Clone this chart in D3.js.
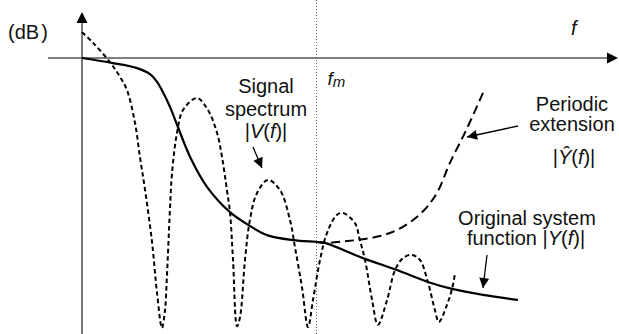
<!DOCTYPE html>
<html>
<head>
<meta charset="utf-8">
<script src="https://cdn.jsdelivr.net/npm/d3@7"></script>
<style>
  html, body { margin: 0; padding: 0; background: #fff; }
  svg { display: block; font-family: "Liberation Sans", Arial, Helvetica, sans-serif; }
</style>
</head>
<body>
<div id="chart"></div>
<script>
// frequency in units of f_m, magnitude in dB
const sysF  = [0, 0.132, 0.235, 0.290, 0.320, 0.341, 0.375, 0.409, 0.461, 0.533, 0.631, 0.716, 0.789, 0.900, 1.002, 1.036, 1.198, 1.343, 1.475, 1.578, 1.710, 1.859];
const sysDb = [0, -1.1, -2.2, -3.5, -5.2, -7.0, -10.6, -15.0, -21.5, -28.0, -33.5, -36.5, -38.5, -39.6, -40.0, -40.2, -43.5, -46.1, -48.7, -50.2, -51.5, -52.6];

const sigF  = [0, 0.047, 0.119, 0.162, 0.192, 0.226, 0.247, 0.269, 0.299, 0.320, 0.341, 0.354, 0.362, 0.375, 0.384, 0.405, 0.431, 0.490,
               0.537, 0.576, 0.597, 0.618, 0.631, 0.644, 0.661, 0.674, 0.695, 0.716, 0.746, 0.793, 0.844, 0.887, 0.908, 0.938, 0.964,
               0.985, 1.015, 1.045, 1.087, 1.113, 1.164, 1.185, 1.207, 1.237, 1.262, 1.301, 1.335, 1.369, 1.407, 1.441, 1.475, 1.505,
               1.522, 1.556, 1.578, 1.591];
const sigDb = [5.6, 3.3, -0.9, -4.1, -7.0, -14.1, -21.5, -28.7, -40.2, -51.1, -58.7, -54.8, -47.6, -33.0, -25.0, -16.3, -11.3, -8.7,
               -11.3, -16.3, -21.5, -28.7, -33.5, -43.9, -58.3, -56.3, -43.9, -35.2, -29.4, -26.5, -28.7, -35.2, -41.1, -49.8, -58.5,
               -52.6, -43.9, -38.0, -34.1, -33.7, -35.9, -39.6, -43.9, -52.6, -58.0, -52.6, -46.1, -43.5, -42.8, -43.9, -48.7, -54.8,
               -57.4, -53.7, -50.2, -46.7];

const extF  = [1.002, 1.036, 1.130, 1.198, 1.271, 1.343, 1.412, 1.471, 1.518, 1.569, 1.638, 1.710];
const extDb = [-40.0, -40.2, -39.8, -39.4, -38.7, -37.4, -35.2, -32.4, -28.9, -22.8, -15.7, -7.6];

const fm = 1;

const width = 619, height = 334;
const svg = d3.select("#chart").append("svg").attr("width", width).attr("height", height);

const x = d3.scaleLinear().domain([0, 1]).range([82, 316.5]);
const y = d3.scaleLinear().domain([0, -40]).range([58, 242]);

const defs = svg.append("defs");
defs.append("marker").attr("id", "head")
  .attr("viewBox", "0 0 10 10").attr("refX", 10).attr("refY", 5)
  .attr("markerWidth", 12).attr("markerHeight", 10).attr("markerUnits", "userSpaceOnUse")
  .attr("orient", "auto")
  .append("path").attr("d", "M0,0L10,5L0,10Z").attr("fill", "#000");

// axes
const axisColor = "#555";
svg.append("line").attr("x1", x(0)).attr("x2", x(0)).attr("y1", height).attr("y2", 22)
  .attr("stroke", axisColor).attr("stroke-width", 1.6);
svg.append("path").attr("d", `M${x(0)},12L${x(0) - 5.5},23L${x(0) + 5.5},23Z`).attr("fill", "#000");
svg.append("line").attr("x1", 48).attr("x2", 608).attr("y1", y(0)).attr("y2", y(0))
  .attr("stroke", axisColor).attr("stroke-width", 1.6);
svg.append("path").attr("d", `M618,${y(0)}L607,${y(0) - 5.5}L607,${y(0) + 5.5}Z`).attr("fill", "#000");

// f_m marker
svg.append("line").attr("x1", x(fm)).attr("x2", x(fm)).attr("y1", 0).attr("y2", height)
  .attr("stroke", "#666").attr("stroke-width", 1).attr("stroke-dasharray", "1,2");

const line = d3.line().x(d => x(d[0])).y(d => y(d[1])).curve(d3.curveCatmullRom.alpha(0.5));
const zip = (a, b) => a.map((v, i) => [v, b[i]]);

svg.append("path").attr("d", line(zip(sigF, sigDb)))
  .attr("fill", "none").attr("stroke", "#000").attr("stroke-width", 2).attr("stroke-dasharray", "4.5,3");
svg.append("path").attr("d", line(zip(extF, extDb)))
  .attr("fill", "none").attr("stroke", "#000").attr("stroke-width", 2).attr("stroke-dasharray", "9,5");
svg.append("path").attr("d", line(zip(sysF, sysDb)))
  .attr("fill", "none").attr("stroke", "#000").attr("stroke-width", 2.2);

// labels
const label = (tx, ty, anchor) => svg.append("text").attr("x", tx).attr("y", ty)
  .attr("text-anchor", anchor || "middle").attr("font-size", 20).attr("fill", "#111");

const db = label(8, 39, "start");
db.append("tspan").text("(dB");
db.append("tspan").attr("dx", 2).text(")");

label(571, 35, "start").attr("font-style", "italic").text("f");

const fmText = label(x(fm) + 11, 85, "start").attr("font-style", "italic").attr("font-size", 19);
fmText.append("tspan").text("f");
fmText.append("tspan").attr("font-size", 15).attr("dy", 2).text("m");

label(266, 93).text("Signal");
label(266, 115.5).text("spectrum");
const v = label(266, 138);
v.append("tspan").text("|");
v.append("tspan").attr("font-style", "italic").text("V");
v.append("tspan").text("(");
v.append("tspan").attr("font-style", "italic").text("f");
v.append("tspan").text(")|");

label(572, 111).text("Periodic");
label(572, 131).text("extension");
const yh = label(574, 164);
yh.append("tspan").text("|");
yh.append("tspan").attr("font-style", "italic").text("\u0176");
yh.append("tspan").text("(");
yh.append("tspan").attr("font-style", "italic").text("f");
yh.append("tspan").text(")|");

label(527, 224.5).text("Original system");
const yf = label(526, 245);
yf.append("tspan").text("function |");
yf.append("tspan").attr("font-style", "italic").text("Y");
yf.append("tspan").text("(");
yf.append("tspan").attr("font-style", "italic").text("f");
yf.append("tspan").text(")|");

// pointer arrows
const pointers = [
  [[253, 147], [262, 168]],
  [[518, 126], [467, 137]],
  [[487, 255], [483, 288]]
];
svg.selectAll(".ptr").data(pointers).join("line").attr("class", "ptr")
  .attr("x1", d => d[0][0]).attr("y1", d => d[0][1])
  .attr("x2", d => d[1][0]).attr("y2", d => d[1][1])
  .attr("stroke", "#000").attr("stroke-width", 1.3).attr("marker-end", "url(#head)");
</script>
</body>
</html>
